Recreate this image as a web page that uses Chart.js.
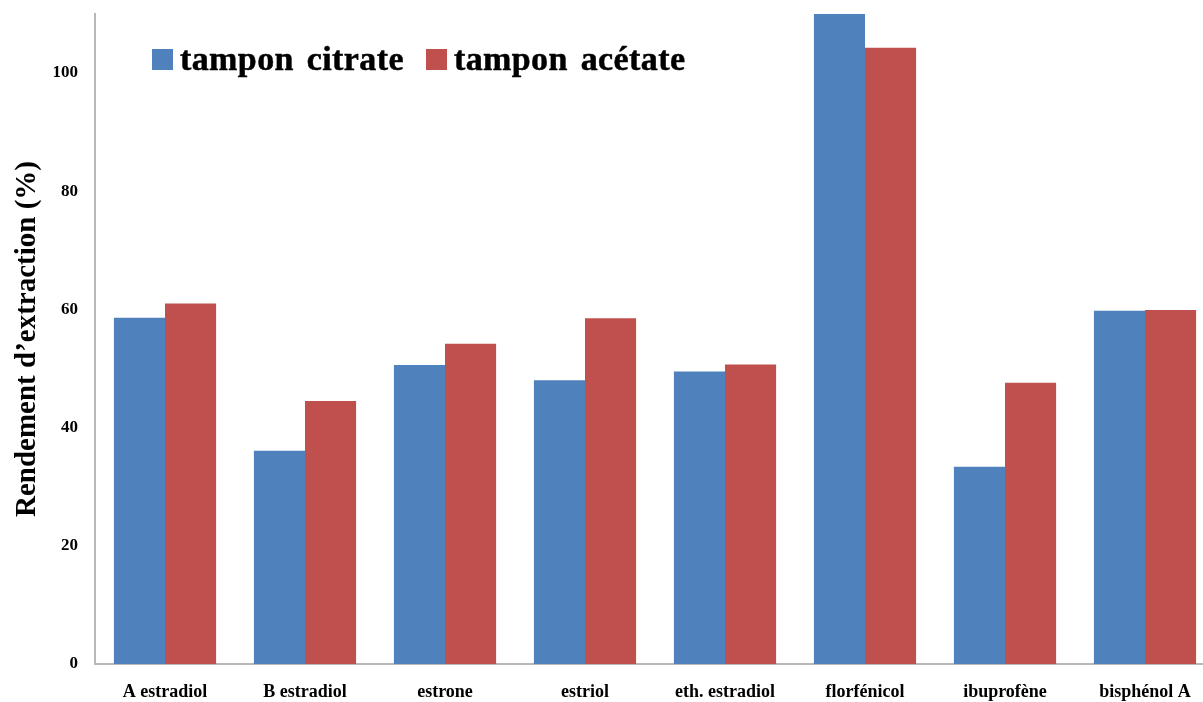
<!DOCTYPE html>
<html lang="fr">
<head>
    <meta charset="UTF-8">
    <title>Rendement d'extraction</title>
    <script src="https://cdn.jsdelivr.net/npm/chart.js"></script>
    <style>
        * {
            margin: 0;
            padding: 0;
            box-sizing: border-box;
        }
        body {
            background: #fff;
            width: 1203px;
            height: 702px;
            overflow: hidden;
            position: relative;
            font-family: 'Liberation Serif', 'Times New Roman', serif;
        }
        .wrap {
            position: absolute;
            left: 0;
            top: 0;
            width: 1215px;
            height: 702px;
        }
        .legend {
            position: absolute;
            left: 152px;
            top: 40px;
            display: flex;
            align-items: center;
            font-weight: bold;
            font-size: 34px;
            color: #000;
            letter-spacing: 0.4px;
            word-spacing: 4px;
            -webkit-text-stroke: 0.5px #000;
        }
        .legend .box {
            display: inline-block;
            width: 21px;
            height: 21px;
            margin-right: 7px;
        }
        .legend .item {
            display: flex;
            align-items: center;
            margin-right: 22px;
        }
    </style>
</head>
<body>
    <div class="wrap">
        <canvas id="chart" width="1215" height="702"></canvas>
    </div>
    <div class="legend" id="legend"></div>

    <script>
        // données
        const categories = ['A estradiol', 'B estradiol', 'estrone', 'estriol', 'eth. estradiol', 'florfénicol', 'ibuprofène', 'bisphénol A'];
        const citrate = [58.6, 36.1, 50.6, 48.0, 49.5, 110, 33.4, 59.8];
        const acetate = [61.0, 44.5, 54.2, 58.5, 50.7, 104.3, 47.6, 59.9];
        const yTicks = [0, 20, 40, 60, 80, 100];
        const seriesNames = ['tampon citrate', 'tampon acétate'];
        const colors = ['#4F81BD', '#C0504D'];

        const serif = "'Liberation Serif', 'Times New Roman', serif";

        // légende HTML dans la zone du graphique
        const legend = document.getElementById('legend');
        seriesNames.forEach((name, i) => {
            legend.innerHTML += `<span class="item"><span class="box" style="background:${colors[i]}"></span>${name}</span>`;
        });

        new Chart(document.getElementById('chart'), {
            type: 'bar',
            data: {
                labels: categories,
                datasets: [
                    { label: seriesNames[0], data: citrate, backgroundColor: colors[0] },
                    { label: seriesNames[1], data: acetate, backgroundColor: colors[1] }
                ]
            },
            options: {
                responsive: false,
                animation: false,
                layout: { padding: { top: 14, right: 0, left: 0, bottom: 0 } },
                datasets: {
                    bar: { categoryPercentage: 0.73, barPercentage: 1 }
                },
                plugins: {
                    legend: { display: false },
                    tooltip: { enabled: false }
                },
                scales: {
                    x: {
                        grid: { display: false },
                        border: { display: true, color: '#b8b8b8', width: 2 },
                        ticks: {
                            color: '#000',
                            padding: 10,
                            maxRotation: 0,
                            font: { family: serif, size: 18, weight: 'bold' }
                        },
                        afterFit: s => { s.height = 38; s.paddingLeft = 0; s.paddingRight = 0; }
                    },
                    y: {
                        min: 0,
                        max: 110,
                        grid: { display: false },
                        border: { display: true, color: '#b8b8b8', width: 2 },
                        afterBuildTicks: s => { s.ticks = yTicks.map(v => ({ value: v })); },
                        ticks: {
                            color: '#000',
                            padding: 9,
                            font: { family: serif, size: 17, weight: 'bold' }
                        },
                        title: {
                            display: true,
                            text: 'Rendement d\u2019extraction (%)',
                            color: '#000',
                            padding: { top: 10, bottom: 0 },
                            font: { family: serif, size: 29, weight: 'bold' }
                        },
                        afterFit: s => { s.width = 95; s.paddingTop = 0; s.paddingBottom = 0; }
                    }
                }
            }
        });
    </script>
</body>
</html>
